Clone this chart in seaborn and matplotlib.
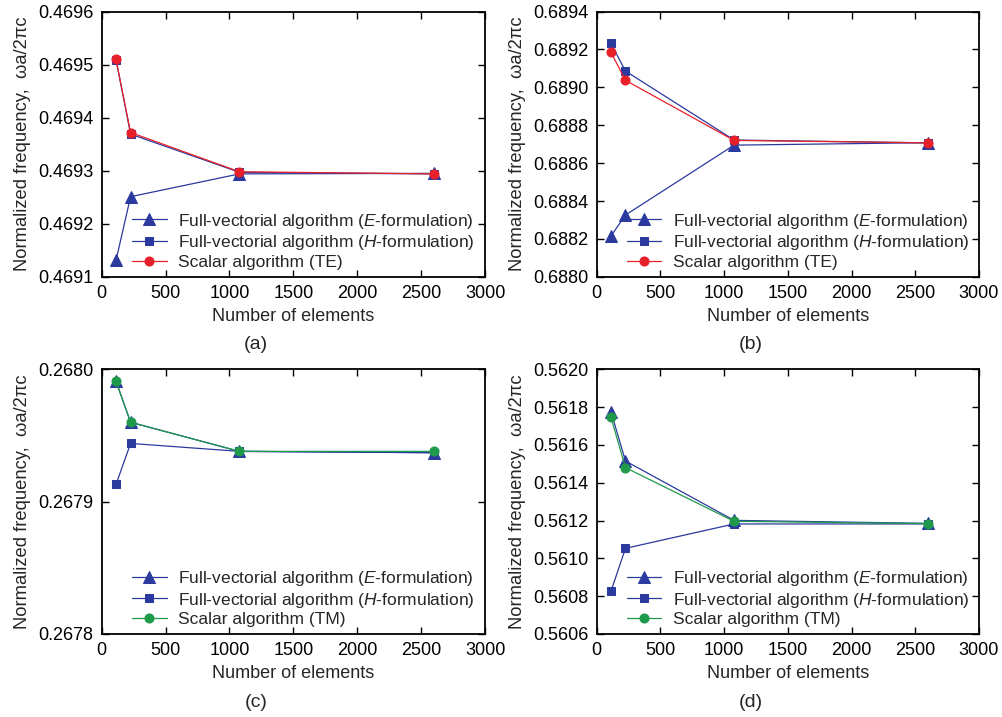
import pandas as pd
import matplotlib.pyplot as plt
import matplotlib.ticker as mticker
import seaborn as sns
import numpy as np

# Jumlah elemen (sumbu x) sama untuk semua panel
n_elements = [112, 226, 1078, 2600]

# (a) mode TE
a_e = [0.469131, 0.469251, 0.469294, 0.469295]
a_h = [0.469509, 0.469369, 0.469297, 0.469294]
a_s = [0.469510, 0.469372, 0.469298, 0.469294]

# (b) mode TE
b_e = [0.688215, 0.688326, 0.688695, 0.688708]
b_h = [0.689232, 0.689086, 0.688722, 0.688707]
b_s = [0.689185, 0.689037, 0.688720, 0.688707]

# (c) mode TM
c_e = [0.267991, 0.267960, 0.267938, 0.267937]
c_h = [0.267913, 0.267944, 0.267938, 0.267937]
c_s = [0.267991, 0.267960, 0.267938, 0.267938]

# (d) mode TM
d_e = [0.561776, 0.561515, 0.561201, 0.561185]
d_h = [0.560826, 0.561053, 0.561182, 0.561182]
d_s = [0.561746, 0.561480, 0.561196, 0.561184]

panel_labels = ['(a)', '(b)', '(c)', '(d)']
scalar_names = ['Scalar algorithm (TE)', 'Scalar algorithm (TE)',
                'Scalar algorithm (TM)', 'Scalar algorithm (TM)']
ylims = [(0.4691, 0.4696), (0.6880, 0.6894), (0.2678, 0.2680), (0.5606, 0.5620)]
ysteps = [0.0001, 0.0002, 0.0001, 0.0002]

label_e = r'Full-vectorial algorithm ($\mathit{E}$-formulation)'
label_h = r'Full-vectorial algorithm ($\mathit{H}$-formulation)'

sns.set_theme(style='ticks')
plt.rcParams['font.family'] = ['Liberation Sans', 'DejaVu Sans']
plt.rcParams['mathtext.fontset'] = 'custom'
plt.rcParams['mathtext.rm'] = 'Liberation Sans'
plt.rcParams['mathtext.it'] = 'Liberation Sans:italic'

blue = '#2b3a9e'
red = '#e8202a'
green = '#1f9a4a'

fig = plt.figure(figsize=(10.03, 7.17), dpi=100)
boxes = [
    [0.1014, 0.614, 0.3822, 0.3698],
    [0.5949, 0.614, 0.3812, 0.3698],
    [0.1014, 0.1158, 0.3822, 0.3691],
    [0.5949, 0.1158, 0.3812, 0.3691],
]
data_sets = [(a_e, a_h, a_s), (b_e, b_h, b_s), (c_e, c_h, c_s), (d_e, d_h, d_s)]

for i, (e_vals, h_vals, s_vals) in enumerate(data_sets):
    ax = fig.add_axes(boxes[i])
    s_color = red if i < 2 else green
    df = pd.DataFrame({'n': n_elements, 'E': e_vals, 'H': h_vals, 'S': s_vals})

    sns.lineplot(data=df, x='n', y='E', ax=ax, color=blue, marker='^', markersize=8,
                 markeredgecolor=blue, linewidth=0.9, label=label_e)
    sns.lineplot(data=df, x='n', y='H', ax=ax, color=blue, marker='s', markersize=6,
                 markeredgecolor=blue, linewidth=0.9, label=label_h)
    sns.lineplot(data=df, x='n', y='S', ax=ax, color=s_color, marker='o', markersize=6.5,
                 markeredgecolor=s_color, linewidth=0.9, label=scalar_names[i])

    ax.set_xlim(0, 3000)
    ax.set_ylim(*ylims[i])
    ax.set_xticks(np.arange(0, 3001, 500))
    ax.set_yticks(np.arange(ylims[i][0], ylims[i][1] + ysteps[i] / 2, ysteps[i]))
    ax.yaxis.set_major_formatter(mticker.FormatStrFormatter('%.4f'))
    ax.tick_params(direction='in', length=5, width=1, labelsize=13, pad=6,
                   top=True, right=True, colors='black')
    for sp in ax.spines.values():
        sp.set_linewidth(1.3)
        sp.set_color('black')

    ax.set_xlabel('Number of elements', fontsize=13, labelpad=4)
    ax.set_ylabel('Normalized frequency,  ωa/2πc', fontsize=13.2, labelpad=5)

    leg = ax.legend(loc='lower left', bbox_to_anchor=(0.065, 0.005), frameon=False,
                    fontsize=12.5, handlelength=2.0, labelspacing=0.16,
                    handletextpad=0.65, borderaxespad=0.1, borderpad=0.2)

    bx = boxes[i]
    fig.text(bx[0] + bx[2] / 2 - 0.037, bx[1] - 0.095, panel_labels[i],
             ha='center', va='center', fontsize=14)

plt.savefig('out.png', dpi=100)
